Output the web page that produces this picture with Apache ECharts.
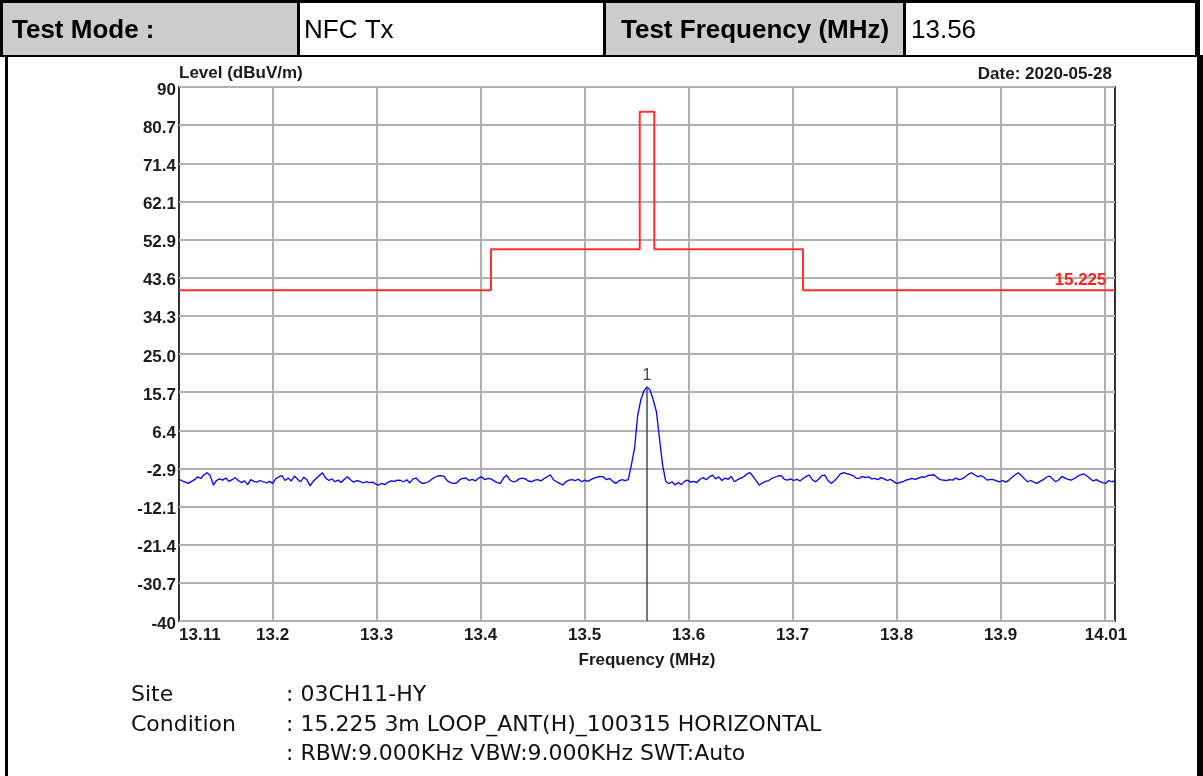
<!DOCTYPE html>
<html>
<head>
<meta charset="utf-8">
<title>NFC Tx 13.56 MHz</title>
<script src="https://cdn.jsdelivr.net/npm/echarts@6/dist/echarts.min.js"></script>
<style>
  html, body { margin: 0; padding: 0; background: #fff; }
  #chart { width: 1203px; height: 776px; }
</style>
</head>
<body>
<div id="chart"></div>
<script>
// Шапка и подписи
const testMode = 'NFC Tx';
const testFreq = '13.56';
const dateText = 'Date: 2020-05-28';
const limitName = '15.225';

// Оси: подписи и линии сетки
const xLabelValues = [13.11, 13.2, 13.3, 13.4, 13.5, 13.6, 13.7, 13.8, 13.9, 14.01];
const xGridValues = [13.2, 13.3, 13.4, 13.5, 13.6, 13.7, 13.8, 13.9, 14.0];
const yTickLabels = ['-40', '-30.7', '-21.4', '-12.1', '-2.9', '6.4', '15.7', '25.0',
  '34.3', '43.6', '52.9', '62.1', '71.4', '80.7', '90'];

// Линия лимита 15.225 (ступеньки)
const limitFreqs = [13.11, 13.41, 13.41, 13.553, 13.553, 13.567, 13.567, 13.71, 13.71, 14.01];
const limitLevels = [40.5, 40.5, 50.5, 50.5, 84.0, 84.0, 50.5, 50.5, 40.5, 40.5];

// Спектр: шаг 3 кГц от 13.11 МГц
const traceStart = 13.11;
const traceStep = 0.003;
const traceLevels = [
  -5.5, -5.9, -6.2, -6.5, -6.0, -5.6, -4.9, -5.3, -4.4, -3.9, -4.6, -6.9, -5.8, -5.4, -5.7, -5.2, -6.0, -5.6, -5.1, -5.8,
  -6.3, -5.9, -6.8, -5.6, -6.0, -6.2, -5.8, -6.1, -6.4, -6.0, -6.5, -5.4, -4.9, -4.6, -5.8, -5.2, -5.9, -4.7, -5.5, -6.1,
  -5.0, -5.6, -7.1, -6.0, -5.3, -4.6, -3.9, -5.2, -5.8, -5.4, -6.1, -5.7, -6.3, -5.5, -4.9, -5.6, -6.2, -5.8, -6.0, -6.4,
  -6.1, -6.3, -6.2, -6.6, -6.9, -6.5, -6.8, -6.2, -5.9, -6.0, -5.7, -5.8, -6.1, -5.6, -6.4, -5.4, -5.2, -6.0, -6.5, -6.4,
  -6.1, -5.5, -5.0, -4.7, -4.6, -4.8, -5.9, -6.3, -6.5, -6.4, -5.6, -5.3, -5.2, -5.8, -5.5, -5.9, -5.2, -4.9, -5.6, -5.3,
  -5.4, -5.9, -6.3, -6.5, -5.2, -4.5, -5.6, -6.1, -6.0, -5.4, -5.2, -5.4, -5.9, -6.1, -5.7, -5.6, -5.9, -5.3, -4.9, -4.4,
  -5.6, -6.1, -6.5, -6.9, -6.1, -5.7, -5.6, -5.8, -5.5, -6.1, -5.7, -6.0, -5.6, -5.2, -5.0, -4.8, -4.9, -5.6, -5.3, -6.0,
  -6.5, -5.9, -5.6, -5.8, -5.6, -2.0, 2.0, 10.0, 13.8, 16.0, 17.0, 16.2, 13.8, 11.0, 4.5, -2.0, -6.0, -6.6, -6.1, -6.9,
  -6.3, -6.8, -6.0, -5.7, -6.2, -6.0, -6.3, -5.5, -5.1, -5.6, -4.9, -4.5, -5.4, -4.9, -5.8, -5.2, -5.5, -4.8, -6.1, -5.6,
  -5.2, -4.9, -4.2, -3.9, -4.8, -5.9, -6.9, -6.4, -6.0, -5.8, -5.3, -5.0, -4.7, -4.6, -5.5, -5.7, -5.4, -5.8, -5.5, -5.9,
  -5.3, -4.8, -4.5, -5.6, -6.1, -5.5, -4.6, -4.5, -5.8, -6.5, -5.9, -5.1, -4.2, -3.9, -4.1, -4.3, -4.6, -5.2, -5.3, -4.8,
  -5.1, -4.9, -5.4, -5.3, -5.6, -5.1, -5.4, -5.8, -5.5, -6.0, -6.5, -6.3, -6.1, -5.7, -5.5, -5.3, -5.5, -5.2, -4.9, -5.0,
  -4.6, -4.5, -4.4, -5.1, -5.6, -5.7, -5.8, -5.6, -5.7, -5.2, -5.6, -5.4, -4.9, -4.3, -3.9, -4.4, -4.9, -4.6, -5.0, -5.7,
  -5.5, -5.6, -5.9, -6.1, -5.8, -6.2, -5.7, -5.0, -4.4, -3.9, -4.6, -5.4, -6.1, -5.8, -6.2, -6.5, -6.0, -5.6, -5.0, -4.7,
  -5.4, -6.1, -5.6, -4.8, -5.2, -5.5, -5.7, -5.3, -4.8, -4.4, -4.2, -4.7, -5.3, -5.9, -5.6, -6.0, -6.3, -6.5, -5.8, -6.1,
  -5.9
];

// Маркер 1
const markerFreq = 13.56;
const markerLevel = 17.0;

// Подписи снизу
const footerKeys = ['Site', 'Condition', ''];
const footerValues = [': 03CH11-HY', ': 15.225 3m LOOP_ANT(H)_100315 HORIZONTAL',
  ': RBW:9.000KHz VBW:9.000KHz SWT:Auto'];

const FONT = '"Liberation Sans", Arial, sans-serif';
const yMin = -40, yMax = 90;

const traceData = traceLevels.map((v, i) => [traceStart + i * traceStep, v]);
const limitData = limitFreqs.map((f, i) => [f, limitLevels[i]]);
const yTickValues = yTickLabels.map(Number);

const labelFont = { fontFamily: FONT, fontSize: 17, fontWeight: 'bold', color: '#1a1a1a' };

function tableGraphic() {
  const els = [];
  const rect = (x, y, w, h, fill) => els.push({
    type: 'rect', silent: true, shape: { x, y, width: w, height: h }, style: { fill },
  });
  // шапка
  rect(3, 3, 294, 52, '#cccccc');
  rect(606, 3, 297, 52, '#cccccc');
  rect(0, 0, 1200, 3, '#000');
  rect(0, 0, 3, 57, '#000');
  rect(1195, 0, 5, 57, '#000');
  rect(0, 55, 1203, 2, '#000');
  rect(297, 3, 3, 52, '#000');
  rect(603, 3, 3, 52, '#000');
  rect(903, 3, 3, 52, '#000');
  // рамка области графика
  rect(5, 57, 3, 719, '#000');
  rect(1197, 57, 6, 719, '#000');

  const text = (x, y, t, opts) => els.push({
    type: 'text', silent: true, x, y,
    style: Object.assign({ text: t, fill: '#000', verticalAlign: 'middle', align: 'left' }, opts),
  });
  text(12, 31, 'Test Mode :', { font: 'bold 26px ' + FONT });
  text(304, 31, testMode, { font: '26px ' + FONT });
  text(621, 31, 'Test Frequency (MHz)', { font: 'bold 26px ' + FONT });
  text(911, 31, testFreq, { font: '26px ' + FONT });

  const rowsY = [695, 725, 754];
  footerKeys.forEach((k, i) => {
    if (k) text(131, rowsY[i], k, { font: '22px "DejaVu Sans", sans-serif', fill: '#111' });
    text(286, rowsY[i], footerValues[i], { font: '22px "DejaVu Sans", sans-serif', fill: '#111' });
  });
  return els;
}

const chart = echarts.init(document.getElementById('chart'), null, { renderer: 'canvas' });

chart.setOption({
  animation: false,
  backgroundColor: '#fff',
  title: {
    text: dateText,
    right: 86,
    top: 61,
    textStyle: labelFont,
  },
  grid: {
    left: 179, top: 87, width: 936, height: 534,
    show: true, borderColor: '#333', borderWidth: 2, backgroundColor: '#fff',
  },
  xAxis: {
    type: 'value',
    min: 13.11,
    max: 14.01,
    name: 'Frequency (MHz)',
    nameLocation: 'middle',
    nameGap: 31,
    nameTextStyle: labelFont,
    axisLine: { show: false },
    axisTick: { show: false, customValues: xGridValues },
    splitLine: { show: true, lineStyle: { color: '#b0b0b0', width: 2 } },
    axisLabel: Object.assign({
      customValues: xLabelValues,
      formatter: (v) => {
        const s = String(+v.toFixed(2));
        return v >= 14.01 - 1e-9 ? '{r|' + s + '}' : s;
      },
      rich: { r: Object.assign({ padding: [0, 18, 0, 0] }, labelFont) },
      alignMinLabel: 'left',
      margin: 6,
      showMinLabel: true, showMaxLabel: true, hideOverlap: false,
    }, labelFont),
  },
  yAxis: {
    type: 'value',
    min: yMin,
    max: yMax,
    name: 'Level (dBuV/m)',
    nameLocation: 'end',
    nameGap: -3,
    nameTextStyle: Object.assign({ align: 'left', verticalAlign: 'bottom' }, labelFont),
    axisLine: { show: false },
    axisTick: { show: false, customValues: yTickValues },
    splitLine: { show: true, lineStyle: { color: '#b0b0b0', width: 2 } },
    axisLabel: Object.assign({
      customValues: yTickValues,
      formatter: (v) => {
        const i = yTickValues.findIndex((t) => Math.abs(t - v) < 1e-6);
        return i >= 0 ? '{a|' + yTickLabels[i] + '}' : '';
      },
      rich: { a: Object.assign({ padding: [6, 0, 0, 0] }, labelFont) },
      margin: 3,
      showMinLabel: true, showMaxLabel: true,
    }, labelFont),
  },
  graphic: tableGraphic(),
  series: [
    {
      name: limitName,
      type: 'line',
      data: limitData,
      symbol: 'none',
      silent: true,
      lineStyle: { color: '#ff3030', width: 2 },
      z: 3,
      markPoint: {
        silent: true,
        symbol: 'circle',
        symbolSize: 1,
        itemStyle: { color: 'rgba(0,0,0,0)' },
        data: [{
          coord: [limitFreqs[limitFreqs.length - 1], limitLevels[limitLevels.length - 1]],
          label: {
            show: true,
            formatter: limitName,
            position: 'left',
            offset: [-3, -10],
            color: '#ff2020',
            fontFamily: FONT, fontSize: 17, fontWeight: 'bold',
          },
        }],
      },
    },
    {
      name: 'Level',
      type: 'line',
      data: traceData,
      symbol: 'none',
      silent: true,
      lineStyle: { color: '#0000ff', width: 1.3 },
      z: 4,
      markLine: {
        silent: true,
        symbol: ['none', 'none'],
        label: { show: false },
        lineStyle: { color: '#2c5070', width: 1.5, type: 'solid' },
        data: [[{ coord: [markerFreq, markerLevel] }, { coord: [markerFreq, yMin] }]],
      },
      markPoint: {
        silent: true,
        symbol: 'circle',
        symbolSize: 1,
        itemStyle: { color: 'rgba(0,0,0,0)' },
        data: [{
          coord: [markerFreq, markerLevel],
          label: {
            show: true,
            formatter: '1',
            position: 'top',
            distance: 3,
            color: '#444',
            fontFamily: FONT, fontSize: 16,
          },
        }],
      },
    },
  ],
});
</script>
</body>
</html>
